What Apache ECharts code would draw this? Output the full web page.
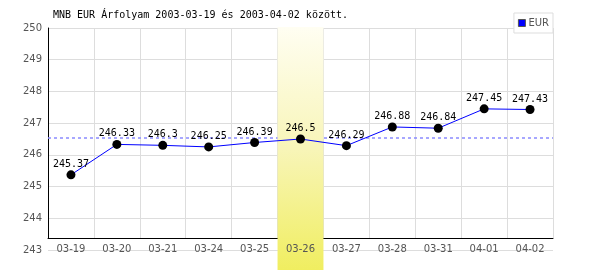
<!DOCTYPE html>
<html><head><meta charset="utf-8">
<script src="https://cdn.jsdelivr.net/npm/echarts@6/dist/echarts.min.js"></script>
<style>html,body{margin:0;padding:0;background:#fff}#c{width:600px;height:270px}</style>
</head><body><div id="c"></div>
<script>
const titleText = 'MNB EUR Árfolyam 2003-03-19 és 2003-04-02 között.';
const seriesName = 'EUR';
const categories = ['03-19','03-20','03-21','03-24','03-25','03-26','03-27','03-28','03-31','04-01','04-02'];
const values = [245.37, 246.33, 246.3, 246.25, 246.39, 246.5, 246.29, 246.88, 246.84, 247.45, 247.43];
const highlightDay = '03-26';
const yMin = 243, yMax = 250, yStep = 1;

const chart = echarts.init(document.getElementById('c'), null, {renderer:'canvas'});
const L = 48, R = 47;
const mono = 'DejaVu Sans Mono';
const sans = 'DejaVu Sans';
const hidden = {show:false};
const avgColor = '#8a8aff';
chart.setOption({
  animation:false,
  backgroundColor:'#fff',
  title:{text:titleText,left:53,top:10,padding:0,textStyle:{fontFamily:mono,fontSize:10,fontWeight:'normal',color:'#000'}},
  legend:{
    data:[{name:seriesName,icon:'rect',itemStyle:{color:'#0000ff',borderColor:'#555',borderWidth:1}}],right:47,top:13,
    backgroundColor:'#fff',borderColor:'#ddd',borderWidth:1,
    padding:[5,4,5,4],itemWidth:7,itemHeight:7,itemGap:4,
    textStyle:{fontFamily:sans,fontSize:10,color:'#555',padding:[0,0,0,-2]},
    z:10
  },
  grid:[
    {left:L,right:R,top:28,bottom:20},
    {left:L,right:R,top:28,bottom:32},
    {left:L,right:R,top:27,bottom:0},
    {left:L,right:R,top:28,bottom:32}
  ],
  xAxis:[
    {gridIndex:0,type:'category',data:categories,boundaryGap:true,axisLine:hidden,axisTick:hidden,axisLabel:hidden,splitLine:hidden},
    {gridIndex:1,type:'category',data:categories,boundaryGap:true,
     axisLine:{show:true,lineStyle:{color:'#000',width:1}},axisTick:hidden,axisLabel:hidden,
     splitLine:{show:true,lineStyle:{color:'#ddd',width:1}},z:0},
    {gridIndex:2,type:'category',data:categories,boundaryGap:true,show:false},
    {gridIndex:3,type:'category',data:categories,boundaryGap:true,axisLine:hidden,axisTick:hidden,splitLine:hidden,
     axisLabel:{show:true,margin:6,fontFamily:sans,fontSize:10,color:'#555',interval:0},z:5}
  ],
  yAxis:[
    {gridIndex:0,type:'value',min:yMin,max:yMax,interval:yStep,axisLine:hidden,axisTick:hidden,
     axisLabel:{margin:6,fontFamily:sans,fontSize:10,color:'#555'},
     splitLine:{show:true,lineStyle:{color:'#ddd',width:1}},z:0},
    {gridIndex:1,type:'value',min:0,max:1,axisLine:{show:true,lineStyle:{color:'#000',width:1}},axisTick:hidden,axisLabel:hidden,splitLine:hidden,z:0},
    {gridIndex:2,type:'value',min:0,max:1,show:false},
    {gridIndex:3,type:'value',min:0,max:1,show:false}
  ],
  series:[
    {type:'line',xAxisIndex:0,yAxisIndex:0,data:values,z:0.5,silent:true,color:avgColor,
     showSymbol:false,symbol:'none',lineStyle:{opacity:0,color:avgColor},itemStyle:{color:avgColor},
     markLine:{silent:true,symbol:['none','none'],label:{show:false},z:0.5,
       lineStyle:{color:avgColor,type:[3,3],width:1.5,opacity:1},
       emphasis:{disabled:true},
       data:[{type:'average'}]}
    },
    {type:'bar',xAxisIndex:2,yAxisIndex:2,barWidth:'100%',barCategoryGap:0,z:1,silent:true,
     data:categories.map(c=>c===highlightDay?1:null),
     itemStyle:{color:new echarts.graphic.LinearGradient(0,0,0,1,[{offset:0,color:'#fffef2'},{offset:0.5,color:'#f8f5b8'},{offset:1,color:'#f0ee60'}])}},
    {name:seriesName,type:'line',xAxisIndex:0,yAxisIndex:0,data:values,z:4,
     symbol:'circle',symbolSize:9,
     itemStyle:{color:'#000'},
     lineStyle:{color:'#0000ff',width:1},
     label:{show:true,position:'top',distance:1,fontFamily:mono,fontSize:10,color:'#000'}
    }
  ]
});
</script></body></html>
